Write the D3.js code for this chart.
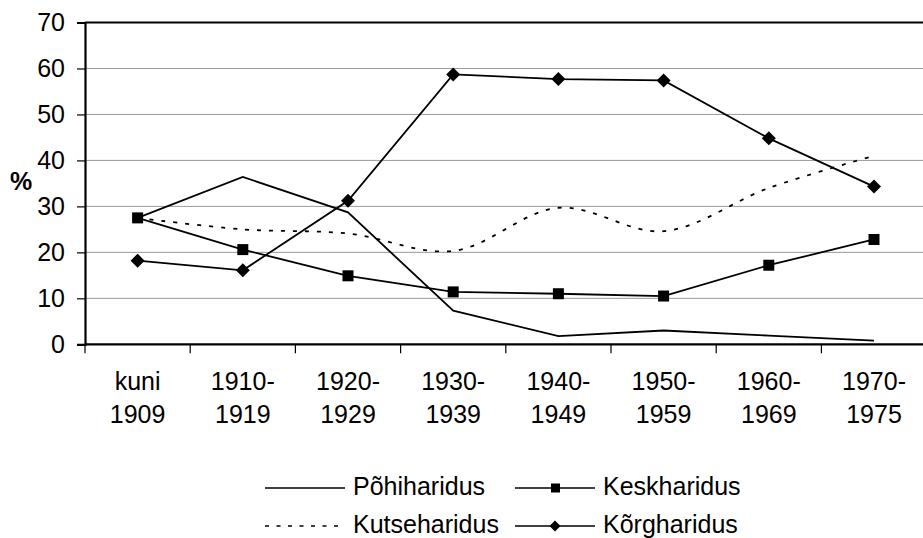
<!DOCTYPE html>
<html>
<head>
<meta charset="utf-8">
<script src="https://cdn.jsdelivr.net/npm/d3@7"></script>
<style>
    body { margin: 0; background: #fff; }
    svg { font-family: "Liberation Sans", Arial, sans-serif; }
    .grid line { stroke: #999; stroke-width: 1; }
    .series { fill: none; stroke: #000; stroke-width: 1.8; }
</style>
</head>
<body>
<div id="chart"></div>
<script>
    // categories (two-line labels)
    var periods = ["kuni 1909", "1910- 1919", "1920- 1929", "1930- 1939", "1940- 1949", "1950- 1959", "1960- 1969", "1970- 1975"];
    var labelLines = [["kuni", "1909"], ["1910-", "1919"], ["1920-", "1929"], ["1930-", "1939"],
                      ["1940-", "1949"], ["1950-", "1959"], ["1960-", "1969"], ["1970-", "1975"]];

    // series values (%)
    var pohiharidus   = [27.5, 36.4, 28.7, 7.3, 1.8, 3.0, 1.9, 0.8];
    var keskharidus   = [27.5, 20.6, 14.9, 11.4, 11.0, 10.5, 17.2, 22.8];
    var kutseharidus  = [27.5, 25.0, 24.1, 20.3, 29.7, 24.6, 34.0, 41.0];
    var korgharidus   = [18.2, 16.1, 31.2, 58.7, 57.7, 57.4, 44.8, 34.3];

    var yTicks = [0, 10, 20, 30, 40, 50, 60, 70];

    var width = 923, height = 538;
    var plotLeft = 85, plotTop = 22.5, plotBottom = 344.3, step = 105.2;

    var svg = d3.select("#chart").append("svg")
        .attr("width", width)
        .attr("height", height);

    var x = d3.scaleBand().domain(periods).range([plotLeft, plotLeft + step * periods.length]).paddingInner(0).paddingOuter(0);
    var y = d3.scaleLinear().domain([0, 70]).range([plotBottom, plotTop]);
    var cx = function(i) { return x(periods[i]) + x.bandwidth() / 2; };

    // gridlines
    svg.append("g").attr("class", "grid")
        .selectAll("line")
        .data(yTicks.filter(function(d) { return d > 0 && d < 70; }))
        .enter().append("line")
        .attr("x1", plotLeft).attr("x2", width)
        .attr("y1", function(d) { return y(d); })
        .attr("y2", function(d) { return y(d); });

    // top border
    svg.append("line")
        .attr("x1", plotLeft).attr("x2", width)
        .attr("y1", y(70)).attr("y2", y(70))
        .attr("stroke", "#000").attr("stroke-width", 2);

    // y axis
    var yAxis = d3.axisLeft(y).tickValues(yTicks).tickSize(8).tickPadding(12).tickFormat(d3.format("d"));
    var gy = svg.append("g").attr("transform", "translate(" + plotLeft + ",0)").call(yAxis);
    gy.select(".domain").attr("stroke-width", 2.2);
    gy.selectAll(".tick line").attr("stroke-width", 1.2);
    gy.selectAll("text").attr("font-size", 25).attr("fill", "#000")
        .attr("font-family", "Liberation Sans, Arial, sans-serif");

    // "%" label
    svg.append("text")
        .attr("x", 21).attr("y", 190)
        .attr("text-anchor", "middle")
        .attr("font-size", 25).attr("font-weight", "bold")
        .text("%");

    // x axis line
    svg.append("line")
        .attr("x1", plotLeft).attr("x2", width)
        .attr("y1", plotBottom).attr("y2", plotBottom)
        .attr("stroke", "#000").attr("stroke-width", 2.2);

    // x ticks at band edges
    var edges = periods.map(function(p) { return x(p); });
    svg.append("g").selectAll("line")
        .data(edges)
        .enter().append("line")
        .attr("x1", function(d) { return d; }).attr("x2", function(d) { return d; })
        .attr("y1", plotBottom).attr("y2", plotBottom + 9)
        .attr("stroke", "#000").attr("stroke-width", 1.2);

    // x labels
    var xl = svg.append("g").selectAll("text")
        .data(labelLines)
        .enter().append("text")
        .attr("text-anchor", "middle")
        .attr("font-size", 25);
    xl.append("tspan")
        .attr("x", function(d, i) { return cx(i); })
        .attr("y", 390)
        .text(function(d) { return d[0]; });
    xl.append("tspan")
        .attr("x", function(d, i) { return cx(i); })
        .attr("y", 423)
        .text(function(d) { return d[1]; });

    // lines
    var line = d3.line()
        .x(function(d, i) { return cx(i); })
        .y(function(d) { return y(d); });
    var smooth = d3.line()
        .x(function(d, i) { return cx(i); })
        .y(function(d) { return y(d); })
        .curve(d3.curveCatmullRom.alpha(0.5));

    svg.append("path").datum(pohiharidus).attr("class", "series").attr("d", line);
    svg.append("path").datum(kutseharidus).attr("class", "series")
        .attr("stroke-dasharray", "4,8").attr("d", smooth);
    svg.append("path").datum(keskharidus).attr("class", "series").attr("d", line);
    svg.append("path").datum(korgharidus).attr("class", "series").attr("d", line);

    // markers
    var sq = 11;
    svg.append("g").selectAll("rect")
        .data(keskharidus)
        .enter().append("rect")
        .attr("x", function(d, i) { return cx(i) - sq / 2; })
        .attr("y", function(d) { return y(d) - sq / 2; })
        .attr("width", sq).attr("height", sq)
        .attr("fill", "#000");

    var dm = 7;
    svg.append("g").selectAll("path")
        .data(korgharidus)
        .enter().append("path")
        .attr("d", function(d, i) {
            var px = cx(i), py = y(d);
            return "M" + px + "," + (py - dm) + "L" + (px + dm) + "," + py + "L" + px + "," + (py + dm) + "L" + (px - dm) + "," + py + "Z";
        })
        .attr("fill", "#000");

    // legend
    var legendItems = [
        {name: "Põhiharidus", x: 265, y: 488, dash: null, marker: null},
        {name: "Keskharidus", x: 515, y: 488, dash: null, marker: "square"},
        {name: "Kutseharidus", x: 265, y: 526, dash: "4,7.5", marker: null},
        {name: "Kõrgharidus", x: 515, y: 526, dash: null, marker: "diamond"}
    ];
    var lg = svg.append("g").selectAll("g")
        .data(legendItems)
        .enter().append("g")
        .attr("transform", function(d) { return "translate(" + d.x + "," + d.y + ")"; });
    lg.append("line")
        .attr("x1", 0).attr("x2", 80)
        .attr("stroke", "#000").attr("stroke-width", 1.6)
        .attr("stroke-dasharray", function(d) { return d.dash; });
    lg.filter(function(d) { return d.marker === "square"; })
        .append("rect")
        .attr("x", 36).attr("y", -4.5).attr("width", 9).attr("height", 9).attr("fill", "#000");
    lg.filter(function(d) { return d.marker === "diamond"; })
        .append("path")
        .attr("d", "M40,-5.5L45.5,0L40,5.5L34.5,0Z").attr("fill", "#000");
    lg.append("text")
        .attr("x", 88).attr("y", 6.5)
        .attr("font-size", 25)
        .text(function(d) { return d.name; });
</script>
</body>
</html>
